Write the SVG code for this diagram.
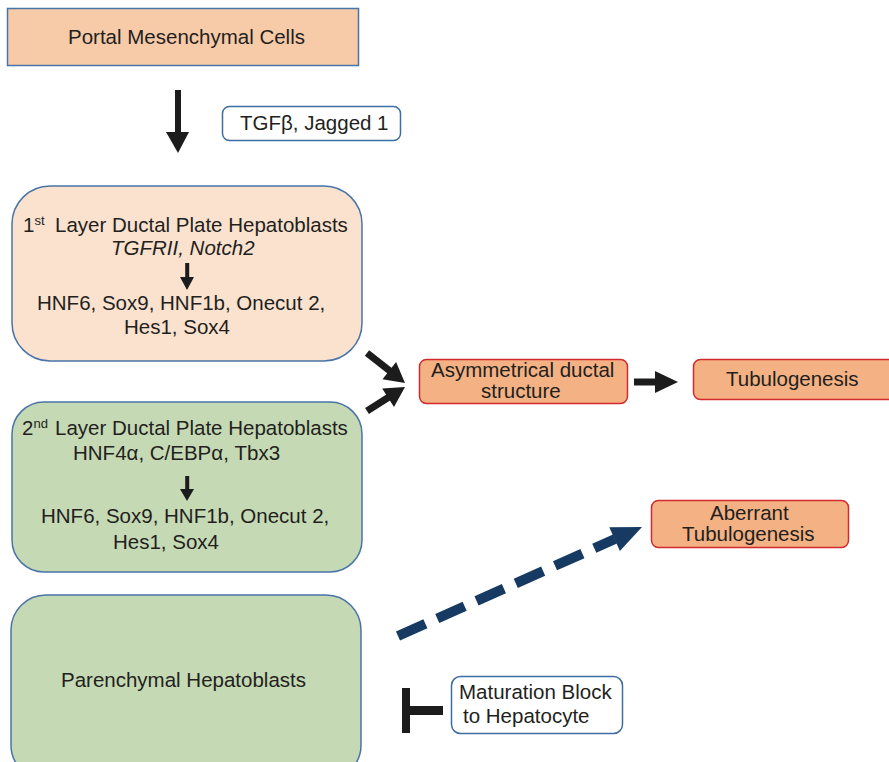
<svg xmlns="http://www.w3.org/2000/svg" width="889" height="762" viewBox="0 0 889 762">
<style>
text{font-family:"Liberation Sans",Arial,sans-serif;font-size:20.5px;fill:#231f20}
.sup{font-size:13px}
.it{font-style:italic}
.blue{stroke:#4a74a8;stroke-width:1.5}
.red{fill:#f4b183;stroke:#d12b2f;stroke-width:1.5}
.lbl{fill:#fff;stroke:#3c6da3;stroke-width:1.5}
.blk{fill:#1c1c1c}
.bline{stroke:#1c1c1c;stroke-width:7;fill:none}
</style>
<rect width="889" height="762" fill="#fff"/>
<g id="portal">
<rect x="7.5" y="8.5" width="351" height="57" fill="#f7caa8" class="blue"/>
<text x="68" y="44">Portal Mesenchymal Cells</text>
</g>
<g id="signal">
<rect x="222.5" y="106.5" width="178" height="34" rx="7" class="lbl"/>
<text x="240" y="130">TGFβ, Jagged 1</text>
</g>
<g id="layer1">
<rect x="12" y="186" width="350" height="175" rx="38" fill="#fae2cf" class="blue"/>
<text x="23" y="232">1<tspan class="sup" dy="-7">st</tspan><tspan x="55" dy="7">Layer Ductal Plate Hepatoblasts</tspan></text>
<text x="111" y="255" class="it">TGFRII, Notch2</text>
<rect x="185.2" y="263" width="4" height="16" class="blk"/>
<polygon points="180,277 194,277 187,290" class="blk"/>
<text x="37" y="310">HNF6, Sox9, HNF1b, Onecut 2,</text>
<text x="124" y="334">Hes1, Sox4</text>
</g>
<g id="layer2">
<rect x="12" y="402" width="350" height="170" rx="32" fill="#c5d9b4" class="blue"/>
<text x="22" y="435">2<tspan class="sup" dy="-7">nd</tspan><tspan x="55" dy="7">Layer Ductal Plate Hepatoblasts</tspan></text>
<text x="73" y="460">HNF4α, C/EBPα, Tbx3</text>
<rect x="185.2" y="476" width="4" height="15" class="blk"/>
<polygon points="180,489 194,489 187,501" class="blk"/>
<text x="41" y="523">HNF6, Sox9, HNF1b, Onecut 2,</text>
<text x="113" y="549">Hes1, Sox4</text>
</g>
<g id="parenchymal">
<rect x="11" y="595" width="350" height="185" rx="35" fill="#c5d9b4" class="blue"/>
<text x="61" y="687">Parenchymal Hepatoblasts</text>
</g>
<g id="asym">
<rect x="419.5" y="359.5" width="208" height="44" rx="7" class="red"/>
<text x="431" y="377">Asymmetrical ductal</text>
<text x="481" y="398">structure</text>
</g>
<g id="tubulo">
<rect x="693.5" y="359.5" width="205" height="40" rx="7" class="red"/>
<text x="726" y="386">Tubulogenesis</text>
</g>
<g id="aberrant">
<rect x="651.5" y="500.5" width="197" height="47" rx="7" class="red"/>
<text x="710" y="520">Aberrant</text>
<text x="682" y="541">Tubulogenesis</text>
</g>
<g id="maturation">
<rect x="451.5" y="676.5" width="171" height="57" rx="9" class="lbl"/>
<text x="459" y="699">Maturation Block</text>
<text x="463" y="723">to Hepatocyte</text>
</g>
<g id="connectors">
<rect x="175" y="90" width="6" height="43" class="blk"/>
<polygon points="166,132 189,132 178,153" class="blk"/>
<line x1="367" y1="353" x2="390" y2="371" class="bline"/>
<polygon points="405,383 382.5,379.2 396.1,362" class="blk"/>
<line x1="367" y1="411" x2="389" y2="397" class="bline"/>
<polygon points="405,387 394,407 382.2,388.4" class="blk"/>
<rect x="634" y="378.5" width="23" height="7" class="blk"/>
<polygon points="655,371 655,393 678,382" class="blk"/>
<line x1="398" y1="636" x2="615" y2="539" stroke="#173a63" stroke-width="10" stroke-dasharray="30 13"/>
<polygon points="642,527 619.9,551.1 609.3,527.3" fill="#173a63"/>
<rect x="402" y="688" width="8" height="45" class="blk"/>
<rect x="410" y="706" width="33" height="9" class="blk"/>
</g>
</svg>
